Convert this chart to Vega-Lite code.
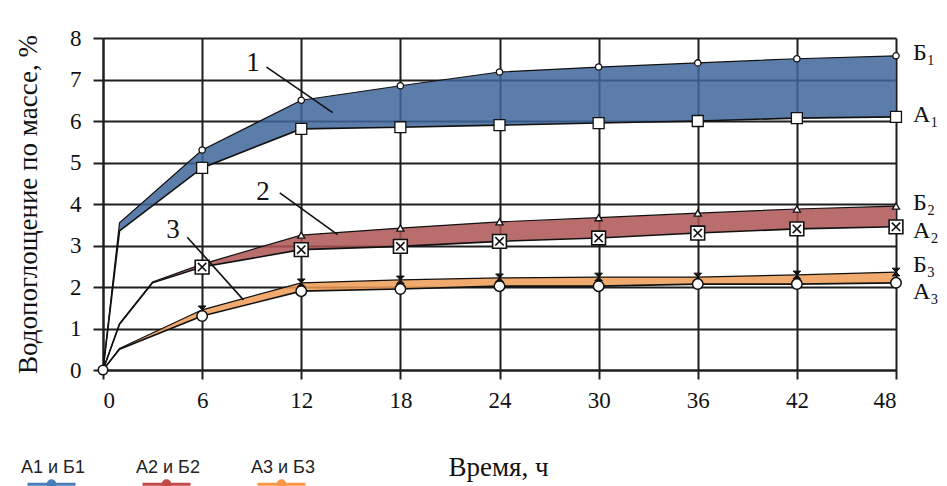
{
  "$schema": "https://vega.github.io/schema/vega-lite/v6.json",
  "width": 793,
  "height": 332,
  "autosize": {"type": "none"},
  "padding": {"left": 103, "top": 38, "right": 51, "bottom": 116},
  "config": {"view": {"stroke": null}, "font": "Liberation Serif"},
  "datasets": {
    "curves": [
      {"series": "А1 и Б1", "t": 0, "A": 0, "B": 0},
      {"series": "А1 и Б1", "t": 1, "A": 3.35, "B": 3.55},
      {"series": "А1 и Б1", "t": 6, "A": 4.87, "B": 5.3},
      {"series": "А1 и Б1", "t": 12, "A": 5.81, "B": 6.5},
      {"series": "А1 и Б1", "t": 18, "A": 5.85, "B": 6.85},
      {"series": "А1 и Б1", "t": 24, "A": 5.9, "B": 7.18},
      {"series": "А1 и Б1", "t": 30, "A": 5.95, "B": 7.3},
      {"series": "А1 и Б1", "t": 36, "A": 6.0, "B": 7.4},
      {"series": "А1 и Б1", "t": 42, "A": 6.07, "B": 7.5},
      {"series": "А1 и Б1", "t": 48, "A": 6.1, "B": 7.57},
      {"series": "А2 и Б2", "t": 0, "A": 0, "B": 0},
      {"series": "А2 и Б2", "t": 1, "A": 1.1, "B": 1.12},
      {"series": "А2 и Б2", "t": 3, "A": 2.1, "B": 2.12},
      {"series": "А2 и Б2", "t": 6, "A": 2.48, "B": 2.55},
      {"series": "А2 и Б2", "t": 12, "A": 2.9, "B": 3.25},
      {"series": "А2 и Б2", "t": 18, "A": 2.98, "B": 3.42},
      {"series": "А2 и Б2", "t": 24, "A": 3.1, "B": 3.57},
      {"series": "А2 и Б2", "t": 30, "A": 3.18, "B": 3.67},
      {"series": "А2 и Б2", "t": 36, "A": 3.3, "B": 3.78},
      {"series": "А2 и Б2", "t": 42, "A": 3.4, "B": 3.88},
      {"series": "А2 и Б2", "t": 48, "A": 3.45, "B": 3.95},
      {"series": "А3 и Б3", "t": 0, "A": 0, "B": 0},
      {"series": "А3 и Б3", "t": 1, "A": 0.5, "B": 0.52},
      {"series": "А3 и Б3", "t": 6, "A": 1.3, "B": 1.45},
      {"series": "А3 и Б3", "t": 12, "A": 1.9, "B": 2.1},
      {"series": "А3 и Б3", "t": 18, "A": 1.95, "B": 2.17},
      {"series": "А3 и Б3", "t": 24, "A": 2.02, "B": 2.22},
      {"series": "А3 и Б3", "t": 30, "A": 2.02, "B": 2.24},
      {"series": "А3 и Б3", "t": 36, "A": 2.07, "B": 2.24},
      {"series": "А3 и Б3", "t": 42, "A": 2.07, "B": 2.29},
      {"series": "А3 и Б3", "t": 48, "A": 2.1, "B": 2.36}
    ],
    "arrows": [
      {"t": 9.9, "v": 7.3, "t2": 13.9, "v2": 6.2},
      {"t": 10.7, "v": 4.27, "t2": 14.2, "v2": 3.26},
      {"t": 5.1, "v": 3.2, "t2": 8.5, "v2": 1.69}
    ],
    "notes": [
      {"t": 9.08, "v": 7.4, "n": "1"},
      {"t": 9.69, "v": 4.29, "n": "2"},
      {"t": 4.24, "v": 3.37, "n": "3"}
    ],
    "ends": [
      {"t": 48, "v": 7.64, "s": "Б₁"},
      {"t": 48, "v": 6.14, "s": "А₁"},
      {"t": 48, "v": 4.02, "s": "Б₂"},
      {"t": 48, "v": 3.34, "s": "А₂"},
      {"t": 48, "v": 2.52, "s": "Б₃"},
      {"t": 48, "v": 1.88, "s": "А₃"}
    ]
  },
  "layer": [
    {
      "data": {"name": "curves"},
      "transform": [{"filter": "datum.series == 'А1 и Б1'"}],
      "mark": {"type": "area", "fill": "#40669b", "fillOpacity": 0.85},
      "encoding": {
        "x": {
          "field": "t", "type": "quantitative",
          "scale": {"domain": [0, 48], "nice": false},
          "axis": {
            "values": [0, 6, 12, 18, 24, 30, 36, 42, 48],
            "grid": true, "gridColor": "#1e1e1e", "gridWidth": 2, "gridOpacity": 1,
            "domainColor": "#1e1e1e", "domainWidth": 2,
            "tickColor": "#1e1e1e", "tickWidth": 2, "tickSize": 9,
            "labelFont": "Liberation Serif", "labelFontSize": 23, "labelColor": "#111", "labelPadding": 10,
            "title": "Время, ч", "titleFont": "Liberation Serif", "titleFontSize": 27, "titleFontWeight": "normal",
            "titleColor": "#111", "titleX": 395, "titleY": 97, "titleBaseline": "middle", "titleAnchor": null
          }
        },
        "y": {
          "field": "A", "type": "quantitative",
          "scale": {"domain": [0, 8], "nice": false},
          "axis": {
            "values": [0, 1, 2, 3, 4, 5, 6, 7, 8],
            "grid": true, "gridColor": "#1e1e1e", "gridWidth": 2, "gridOpacity": 1,
            "domainColor": "#1e1e1e", "domainWidth": 2,
            "tickColor": "#1e1e1e", "tickWidth": 2, "tickSize": 10,
            "labelFont": "Liberation Serif", "labelFontSize": 23, "labelColor": "#111", "labelPadding": 12,
            "title": "Водопоглощение по массе, %", "titleFont": "Liberation Serif", "titleFontSize": 27,
            "titleFontWeight": "normal", "titleColor": "#111",
            "titleX": -75, "titleY": 166, "titleAngle": 270, "titleBaseline": "middle", "titleAlign": "center"
          }
        },
        "y2": {"field": "B"}
      }
    },
    {
      "data": {"name": "curves"},
      "transform": [{"filter": "datum.series == 'А2 и Б2'"}],
      "mark": {"type": "area", "fill": "#ad5454", "fillOpacity": 0.85},
      "encoding": {
        "x": {"field": "t", "type": "quantitative"},
        "y": {"field": "A", "type": "quantitative"},
        "y2": {"field": "B"}
      }
    },
    {
      "data": {"name": "curves"},
      "transform": [{"filter": "datum.series == 'А3 и Б3'"}],
      "mark": {"type": "area", "fill": "#ed9b54", "fillOpacity": 0.85},
      "encoding": {
        "x": {"field": "t", "type": "quantitative"},
        "y": {"field": "A", "type": "quantitative"},
        "y2": {"field": "B"}
      }
    },
    {
      "data": {"name": "curves"},
      "mark": {"type": "line", "color": "#111", "strokeWidth": 1.6},
      "encoding": {
        "x": {"field": "t", "type": "quantitative"},
        "y": {"field": "A", "type": "quantitative"},
        "detail": {"field": "series"}
      }
    },
    {
      "data": {"name": "curves"},
      "mark": {"type": "line", "color": "#111", "strokeWidth": 1.2},
      "encoding": {
        "x": {"field": "t", "type": "quantitative"},
        "y": {"field": "B", "type": "quantitative"},
        "detail": {"field": "series"}
      }
    },
    {
      "data": {"name": "curves"},
      "transform": [{"filter": "datum.t == 0"}],
      "mark": {"type": "line", "strokeWidth": 0},
      "encoding": {
        "x": {"field": "t", "type": "quantitative"},
        "y": {"field": "A", "type": "quantitative"},
        "stroke": {
          "field": "series", "type": "nominal",
          "scale": {"domain": ["А1 и Б1", "А2 и Б2", "А3 и Б3"], "range": ["#4a7ebb", "#be4b48", "#f79646"]},
          "legend": {
            "orient": "none", "legendX": -77, "legendY": 413, "direction": "horizontal", "title": null,
            "symbolType": "M-1,0.3H1M0.14,0.3A0.14,0.14,0,1,1,-0.14,0.3A0.14,0.14,0,1,1,0.14,0.3M0.05,0.3A0.05,0.05,0,1,1,-0.05,0.3A0.05,0.05,0,1,1,0.05,0.3",
            "symbolSize": 2304, "symbolStrokeWidth": 3, "symbolOpacity": 1,
            "labelFont": "Liberation Sans", "labelFontSize": 18, "labelColor": "#222",
            "labelAlign": "center", "labelBaseline": "bottom", "labelOffset": -24,
            "columnPadding": 51, "padding": 0
          }
        }
      }
    },
    {
      "data": {"name": "curves"},
      "transform": [{"filter": "datum.series == 'А1 и Б1' && datum.t >= 6"}],
      "mark": {"type": "point", "shape": "circle", "size": 40, "filled": true, "fill": "white", "stroke": "#111", "strokeWidth": 1.3, "opacity": 1},
      "encoding": {"x": {"field": "t", "type": "quantitative"}, "y": {"field": "B", "type": "quantitative"}}
    },
    {
      "data": {"name": "curves"},
      "transform": [{"filter": "datum.series == 'А1 и Б1' && datum.t >= 6"}],
      "mark": {"type": "point", "shape": "square", "size": 120, "filled": true, "fill": "white", "stroke": "#111", "strokeWidth": 1.3, "opacity": 1},
      "encoding": {"x": {"field": "t", "type": "quantitative"}, "y": {"field": "A", "type": "quantitative"}}
    },
    {
      "data": {"name": "curves"},
      "transform": [{"filter": "datum.series == 'А2 и Б2' && datum.t >= 12"}],
      "mark": {"type": "point", "shape": "triangle-up", "size": 50, "filled": true, "fill": "white", "stroke": "#111", "strokeWidth": 1.3, "opacity": 1},
      "encoding": {"x": {"field": "t", "type": "quantitative"}, "y": {"field": "B", "type": "quantitative"}}
    },
    {
      "data": {"name": "curves"},
      "transform": [{"filter": "datum.series == 'А2 и Б2' && datum.t >= 6"}],
      "mark": {"type": "point", "shape": "square", "size": 190, "filled": true, "fill": "white", "stroke": "#111", "strokeWidth": 1.6, "opacity": 1},
      "encoding": {"x": {"field": "t", "type": "quantitative"}, "y": {"field": "A", "type": "quantitative"}}
    },
    {
      "data": {"name": "curves"},
      "transform": [{"filter": "datum.series == 'А2 и Б2' && datum.t >= 6"}],
      "mark": {"type": "point", "shape": "M-1,-1L1,1M-1,1L1,-1", "size": 70, "filled": false, "stroke": "#111", "strokeWidth": 1.6, "opacity": 1},
      "encoding": {"x": {"field": "t", "type": "quantitative"}, "y": {"field": "A", "type": "quantitative"}}
    },
    {
      "data": {"name": "curves"},
      "transform": [{"filter": "datum.series == 'А3 и Б3' && datum.t >= 6"}],
      "mark": {"type": "point", "shape": "M-1,-1L1,-1L-1,1L1,1Z", "size": 60, "filled": true, "fill": "#111", "stroke": "#111", "strokeWidth": 1, "opacity": 1},
      "encoding": {"x": {"field": "t", "type": "quantitative"}, "y": {"field": "B", "type": "quantitative"}}
    },
    {
      "data": {"name": "curves"},
      "transform": [{"filter": "datum.series == 'А3 и Б3' && datum.t >= 6"}],
      "mark": {"type": "point", "shape": "circle", "size": 110, "filled": true, "fill": "white", "stroke": "#111", "strokeWidth": 1.5, "opacity": 1},
      "encoding": {"x": {"field": "t", "type": "quantitative"}, "y": {"field": "A", "type": "quantitative"}}
    },
    {
      "data": {"name": "curves"},
      "transform": [{"filter": "datum.series == 'А1 и Б1' && datum.t == 0"}],
      "mark": {"type": "point", "shape": "circle", "size": 90, "filled": true, "fill": "white", "stroke": "#111", "strokeWidth": 1.6, "opacity": 1},
      "encoding": {"x": {"field": "t", "type": "quantitative"}, "y": {"field": "A", "type": "quantitative"}}
    },
    {
      "data": {"name": "arrows"},
      "mark": {"type": "rule", "color": "#111", "strokeWidth": 1.6},
      "encoding": {
        "x": {"field": "t", "type": "quantitative"},
        "y": {"field": "v", "type": "quantitative"},
        "x2": {"field": "t2"},
        "y2": {"field": "v2"}
      }
    },
    {
      "data": {"name": "notes"},
      "mark": {"type": "text", "font": "Liberation Serif", "fontSize": 27, "color": "#111", "align": "center", "baseline": "middle"},
      "encoding": {
        "x": {"field": "t", "type": "quantitative"},
        "y": {"field": "v", "type": "quantitative"},
        "text": {"field": "n"}
      }
    },
    {
      "data": {"name": "ends"},
      "mark": {"type": "text", "font": "Liberation Serif", "fontSize": 24, "color": "#111", "align": "left", "baseline": "middle", "dx": 17},
      "encoding": {
        "x": {"field": "t", "type": "quantitative"},
        "y": {"field": "v", "type": "quantitative"},
        "text": {"field": "s"}
      }
    }
  ]
}
